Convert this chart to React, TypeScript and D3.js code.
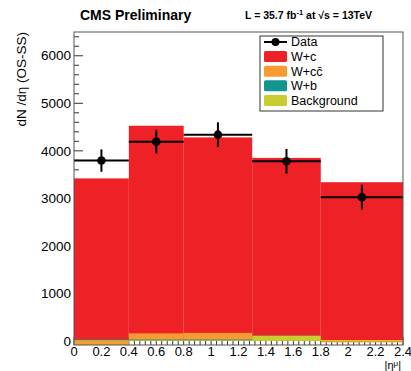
import React from "react";
import * as d3 from "d3";

const binEdges = [0, 0.4, 0.8, 1.3, 1.8, 2.4];
const background = [15, 15, 15, 110, 20];
const wb = [15, 15, 15, 0, 0];
const wcc = [-150, 130, 140, -5, -50];
const wc = [3540, 4368, 4113, 3746, 3370];
const dataVals = [3795, 4193, 4340, 3780, 3025];
const dataErr = [235, 250, 260, 260, 262];
const yTicks = [0, 1000, 2000, 3000, 4000, 5000, 6000];
const xTicks = [0, 0.2, 0.4, 0.6, 0.8, 1, 1.2, 1.4, 1.6, 1.8, 2, 2.2, 2.4];
const legendLabels = ["Data", "W+c", "W+cc̄", "W+b", "Background"];

const W = 411, H = 371;
const L = 74, R = 403, T = 32, B = 345;
const FONT = "'Liberation Sans', Arial, Helvetica, sans-serif";
const C_RED = "#ed2126";
const C_ORANGE = "#f99b31";
const C_TEAL = "#139590";
const C_YEL = "#c8cc2f";

export default function App() {
  const x = d3.scaleLinear().domain([0, 2.4]).range([L, R]);
  const y = d3.scaleLinear().domain([-85, 6500]).range([B, T]);
  const nb = binEdges.length - 1;
  const bins = d3.range(nb);
  const cumBg = bins.map((i) => background[i]);
  const cumWb = bins.map((i) => cumBg[i] + wb[i]);
  const cumWcc = bins.map((i) => cumWb[i] + wcc[i]);
  const cumWc = bins.map((i) => cumWcc[i] + wc[i]);
  const layers = [
    { vals: cumWc, color: C_RED },
    { vals: cumWcc, color: C_ORANGE },
    { vals: cumWb, color: C_TEAL },
    { vals: cumBg, color: C_YEL },
  ];
  const clampY = (v: number) => Math.max(T, Math.min(B, y(v)));
  const yMinor = d3.range(-0, 6500, 200);
  const xMinor = d3.range(0, 2.4001, 0.04);

  return (
    <svg width={W} height={H} style={{ position: "absolute", left: 0, top: 0, background: "#fff" }} fontFamily={FONT}>
      <rect x={0} y={0} width={W} height={H} fill="#fff" />
      {/* ticks */}
      {yMinor.map((v, i) => (
        <line key={"ym" + i} x1={L} x2={L + (v % 1000 === 0 ? 9 : 5)} y1={y(v)} y2={y(v)} stroke="#333" strokeWidth={1} />
      ))}
      {xMinor.map((v, i) => {
        const major = Math.abs(v / 0.2 - Math.round(v / 0.2)) < 1e-6;
        return <line key={"xm" + i} x1={x(v)} x2={x(v)} y1={B} y2={B - (major ? 8 : 4)} stroke="#333" strokeWidth={1} />;
      })}
      {/* stacked fills */}
      {layers.map((ly, li) => (
        <g key={"l" + li}>
          {bins.map((i) => {
            const y0 = clampY(0), y1 = clampY(ly.vals[i]);
            return (
              <rect key={i} x={x(binEdges[i])} width={x(binEdges[i + 1]) - x(binEdges[i])}
                y={Math.min(y0, y1)} height={Math.abs(y1 - y0)} fill={ly.color} />
            );
          })}
        </g>
      ))}
      {/* data */}
      {bins.map((i) => {
        const cx = x((binEdges[i] + binEdges[i + 1]) / 2);
        const cy = y(dataVals[i]);
        return (
          <g key={"d" + i} stroke="#000" strokeWidth={2}>
            <line x1={x(binEdges[i])} x2={x(binEdges[i + 1])} y1={cy} y2={cy} />
            <line x1={cx} x2={cx} y1={y(dataVals[i] - dataErr[i])} y2={y(dataVals[i] + dataErr[i])} />
            <circle cx={cx} cy={cy} r={4.3} fill="#000" stroke="none" />
          </g>
        );
      })}
      {/* frame */}
      <rect x={L} y={T} width={R - L} height={B - T} fill="none" stroke="#555" strokeWidth={1} />
      {/* y tick labels */}
      {yTicks.map((v) => (
        <text key={"yl" + v} x={L - 3} y={y(v)} dy="0.35em" textAnchor="end" fontSize={13.5} fill="#000">{v}</text>
      ))}
      {xTicks.map((v) => (
        <text key={"xl" + v} x={x(v)} y={B + 10.5} textAnchor="middle" fontSize={13} fill="#000">{d3.format("~g")(v)}</text>
      ))}
      {/* axis titles */}
      <text transform={`translate(26,${T}) rotate(-90)`} textAnchor="end" fontSize={13.5} fill="#000">dN /dη (OS-SS)</text>
      <text x={401} y={368.5} textAnchor="end" fontSize={11} fill="#000">|η<tspan dy="-3" fontSize={8}>μ</tspan><tspan dy="3">|</tspan></text>
      {/* title */}
      <text x={80} y={20} fontSize={14} fontWeight="bold" fill="#000">CMS Preliminary</text>
      <text x={245} y={19} fontSize={10.5} fontWeight="bold" fill="#000">
        L = 35.7 fb<tspan dy="-4" fontSize={7.5}>-1</tspan><tspan dy="4"> at √s = 13TeV</tspan>
      </text>
      {/* legend */}
      <rect x={260} y={36} width={123} height={75} fill="#fff" stroke="#333" strokeWidth={1} />
      {legendLabels.map((lab, i) => {
        const ry = 42 + i * 14.6;
        const sw = [null, C_RED, C_ORANGE, C_TEAL, C_YEL][i];
        return (
          <g key={"lg" + i}>
            {i === 0 ? (
              <g>
                <line x1={264} x2={287} y1={ry} y2={ry} stroke="#000" strokeWidth={2} />
                <circle cx={275.5} cy={ry} r={4} fill="#000" />
              </g>
            ) : (
              <rect x={264} y={ry - 5.5} width={23} height={11} rx={1.5} fill={sw as string} />
            )}
            <text x={291} y={ry} dy="0.35em" fontSize={12.5} fill="#000">{lab}</text>
          </g>
        );
      })}
    </svg>
  );
}
